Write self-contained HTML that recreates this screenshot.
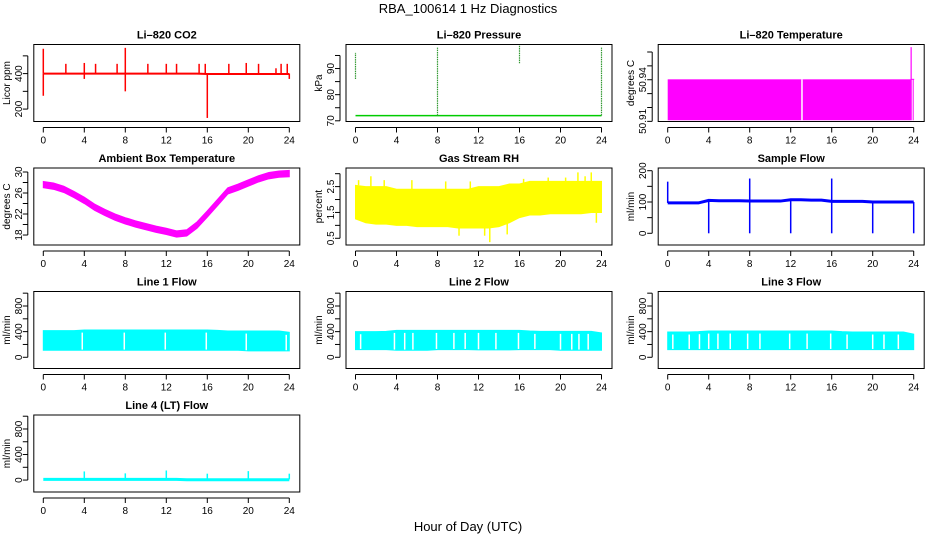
<!DOCTYPE html>
<html><head><meta charset="utf-8"><style>
html,body{margin:0;padding:0;background:#fff}
svg{display:block;font-family:"Liberation Sans",Arial,sans-serif}
</style></head><body>
<svg id="c" width="936" height="540" viewBox="0 0 936 540">
<text x="468" y="13" text-anchor="middle" font-size="13">RBA_100614  1 Hz Diagnostics</text>
<text x="468" y="531" text-anchor="middle" font-size="13">Hour of Day (UTC)</text>
</svg>
<script>
const hours=[0,1,2,3,4,5,6,7,8,9,10,11,12,13,14,15,16,17,18,19,20,21,22,23,24];
const xTicks=[0,4,8,12,16,20,24];
// CO2
const co2Base=[400,400,400,400,400,400,400,400,400,400,400,400,400,400,400,400,398,398,398,398,398,398,398,398,398];
const co2SpikeH=[0,0,2.2,4,4,5.1,7.2,8,8,10.2,12,13,15.2,15.8,16,18.1,19.8,21,22.7,23.2,23.8,24];
const co2SpikeV=[540,275,455,460,370,455,455,545,300,455,455,455,455,455,150,455,460,455,430,455,455,370];
// pressure
const presBase=[72,72,72,72,72,72,72,72,72,72,72,72,72,72,72,72,72,72,72,72,72,72,72,72,72];
const presSpikeH=[0,8,16,24];
const presSpikeLo=[86,72,92,72];
const presSpikeHi=[96,98,99,98];
// Li-820 temperature
const ltStart=[0];const ltEnd=[23.7];const ltLo=[50.9108];const ltHi=[50.9403];
const ltGap=[13.1];const ltSpikeH=[23.75];const ltSpikeV=[50.9635];
// ambient
const ambC=[27.6,27.3,26.7,25.7,24.6,23.3,22.3,21.4,20.7,20.1,19.6,19.1,18.7,18.2,18.4,19.9,22,24.2,26.4,27.1,27.9,28.7,29.3,29.6,29.7];
const ambHalf=0.6;
// RH
const rhLo=[1.25,1.1,1.05,1.05,1.0,1.0,0.95,0.95,0.95,0.95,0.9,0.9,0.9,0.9,0.95,1.1,1.3,1.4,1.4,1.45,1.45,1.45,1.45,1.5,1.5];
const rhHi=[2.55,2.5,2.5,2.5,2.4,2.4,2.4,2.4,2.4,2.4,2.4,2.4,2.5,2.5,2.5,2.6,2.6,2.7,2.7,2.7,2.7,2.7,2.7,2.7,2.7];
const rhSpikeH=[0.3,1.5,2.8,5.5,8.8,10.1,11.2,12.6,13.1,14.8,16.4,18.8,20.5,21.7,22.4,23,23.5];
const rhSpikeV=[2.75,2.9,2.75,2.75,2.7,0.6,2.7,0.6,0.35,0.65,2.8,2.85,2.85,3.05,2.9,3.05,1.1];
// sample flow
const sfBase=[97,97,97,97,105,104,104,104,103,103,103,103,107,107,106,106,102,102,102,102,100,100,100,100,100];
const sfSpikeH=[0,4,8,8,12,16,16,20,24];
const sfSpikeV=[165,0,175,0,0,175,0,0,0];
// line flows
const l1Lo=[110,110,110,110,110,110,110,110,110,110,110,110,110,110,110,110,110,110,110,110,100,100,100,100,100];
const l1Hi=[415,415,415,415,425,425,425,425,425,425,425,425,425,425,425,425,425,420,410,410,410,410,410,410,390];
const l1Gap=[3.8,7.9,11.9,15.9,19.8,23.7];
const l2Lo=[120,120,120,120,110,110,110,110,120,120,120,120,115,115,115,115,120,120,120,120,110,110,110,110,110];
const l2Hi=[400,400,400,405,420,420,420,420,420,420,420,420,420,420,420,420,420,410,405,405,405,405,405,405,380];
const l2Gap=[0.5,3.8,4.8,5.6,7.9,9.6,10.7,12,13.7,15.9,17.5,20,21.1,21.8,22.7];
const l3Lo=[120,120,120,120,120,120,120,120,120,120,120,120,120,120,120,120,120,120,120,120,120,120,120,120,120];
const l3Hi=[395,395,395,400,410,410,410,410,410,410,410,410,410,410,410,410,410,400,395,395,395,395,395,395,360];
const l3Gap=[0.5,2.1,3.1,4,4.9,6.1,7.8,9,11.9,13.6,15.9,17.5,20,21.1,22.5];
const l4Base=[10,10,10,10,10,10,10,10,10,10,10,10,10,10,5,5,5,5,5,5,5,5,5,5,5];
const l4SpikeH=[4,8,12,16,20,24];
const l4SpikeV=[135,105,150,100,140,100];

const svg=document.getElementById('c');
const NS='http://www.w3.org/2000/svg';
function mk(tag,at,parent){const e=document.createElementNS(NS,tag);for(const k in at)e.setAttribute(k,at[k]);(parent||svg).appendChild(e);return e;}
const colX=[43.3,355.5,667.7], rowT=[44.5,168,291.5,415], H=77, PX=10.25;

function panel(o){
  const x0=colX[o.col], top=rowT[o.row], bot=top+H;
  const g=mk('g',{});
  
  
  const sx=h=>x0+h*PX;
  const sy=v=>bot-(v-o.lo)/(o.hi-o.lo)*H;
  const left=x0-9.5, right=x0+256.5;
  const t=mk('text',{x:(left+right)/2,y:top-6,'text-anchor':'middle','font-size':11,'font-weight':'bold'},g);
  t.textContent=o.title;
  
  
  o.draw(g,sx,sy);
  const box=mk('rect',{x:left,y:top,width:right-left,height:H,fill:'none',stroke:'#000','stroke-width':1},g);
  
  
  const xa=mk('g',{},g);
  
  
  mk('line',{x1:sx(0),x2:sx(24),y1:bot+6,y2:bot+6,stroke:'#000'},xa);
  xTicks.forEach(h=>{mk('line',{x1:sx(h),x2:sx(h),y1:bot+6,y2:bot+11,stroke:'#000'},xa);
    const l=mk('text',{x:sx(h),y:bot+22,'text-anchor':'middle','font-size':10},xa);l.textContent=h;});
  const ya=mk('g',{},g);
  
  
  const ax=left-6;
  mk('line',{x1:ax,x2:ax,y1:sy(o.ticks[0]),y2:sy(o.ticks[o.ticks.length-1]),stroke:'#000'},ya);
  o.ticks.forEach(v=>mk('line',{x1:ax,x2:ax-5,y1:sy(v),y2:sy(v),stroke:'#000'},ya));
  o.labels.forEach(v=>{const y=sy(v);const lx=ax-6;const l=mk('text',{x:lx,y:y,'text-anchor':'middle','font-size':10,transform:`rotate(-90 ${lx} ${y})`},ya);l.textContent=o.fmt?o.fmt(v):v;});
  const yl=mk('text',{x:left-24,y:top+H/2,'text-anchor':'middle','font-size':10,transform:`rotate(-90 ${left-24} ${top+H/2})`},ya);
  yl.textContent=o.ylab;
  
  
}
function polyline(g,sx,sy,xs,ys,attrs){return mk('polyline',Object.assign({points:xs.map((h,i)=>sx(h)+','+sy(ys[i])).join(' '),fill:'none'},attrs),g);}
function band(g,sx,sy,lo,hi,color){
  const pts=hours.map((h,i)=>sx(h)+','+sy(hi[i])).concat(hours.slice().reverse().map((h,j)=>{const i=hours.length-1-j;return sx(h)+','+sy(lo[i]);}));
  const p=mk('polygon',{points:pts.join(' '),fill:color,stroke:color},g);
  
  
}
function vline(g,sx,sy,h,a,b,color,w,extra){return mk('line',Object.assign({x1:sx(h),x2:sx(h),y1:sy(a),y2:sy(b),stroke:color,'stroke-width':w||1},extra||{}),g);}

panel({name:'co2-panel',title:'Li\u2013820 CO2',ylab:'Licor ppm',col:0,row:0,lo:130,hi:564,ticks:[200,300,400,500],labels:[200,400],
 draw:(g,sx,sy)=>{const s=polyline(g,sx,sy,hours,co2Base,{stroke:'#f00','stroke-width':2});
  
  co2SpikeH.forEach((h,i)=>vline(g,sx,sy,h,400,co2SpikeV[i],'#f00',1.5));}});
panel({name:'pressure-panel',title:'Li\u2013820 Pressure',ylab:'kPa',col:1,row:0,lo:69.73,hi:99.2,ticks:[70,75,80,85,90,95],labels:[70,80,90],
 draw:(g,sx,sy)=>{const s=polyline(g,sx,sy,hours,presBase,{stroke:'#0c0','stroke-width':1.5});
  
  presSpikeH.forEach((h,i)=>vline(g,sx,sy,h,presSpikeLo[i],presSpikeHi[i],'#393',1.2,{'stroke-dasharray':'1.5,0.8'}));}});
panel({name:'li820-temperature-panel',title:'Li\u2013820 Temperature',ylab:'degrees C',col:2,row:0,lo:50.9099,hi:50.9654,ticks:[50.91,50.92,50.93,50.94,50.95,50.96],labels:[50.91,50.94],fmt:v=>v.toFixed(2),
 draw:(g,sx,sy)=>{ltStart.forEach((s,i)=>{const r=mk('rect',{x:sx(s),y:sy(ltHi[i]),width:sx(ltEnd[i])-sx(s),height:sy(ltLo[i])-sy(ltHi[i]),fill:'#f0f'},g);
   });
  ltGap.forEach(h=>vline(g,sx,sy,h,ltLo[0],ltHi[0],'#fff',1.5));
  ltSpikeH.forEach((h,i)=>vline(g,sx,sy,h,ltLo[0],ltSpikeV[i],'#f0f',1.2));
  vline(g,sx,sy,23.95,ltLo[0],ltHi[0],'#f0f',1);
  mk('line',{x1:sx(23.7),x2:sx(24.05),y1:sy(ltHi[0]),y2:sy(ltHi[0]),stroke:'#f0f'},g);}});
panel({name:'ambient-temperature-panel',title:'Ambient Box Temperature',ylab:'degrees C',col:0,row:1,lo:16.1,hi:30.76,ticks:[18,20,22,24,26,28,30],labels:[18,22,26,30],
 draw:(g,sx,sy)=>band(g,sx,sy,ambC.map(v=>v-ambHalf),ambC.map(v=>v+ambHalf),'#f0f')});
panel({name:'rh-panel',title:'Gas Stream RH',ylab:'percent',col:1,row:1,lo:0.24,hi:3.22,ticks:[0.5,1,1.5,2,2.5,3],labels:[0.5,1.5,2.5],fmt:v=>v.toFixed(1),
 draw:(g,sx,sy)=>{band(g,sx,sy,rhLo,rhHi,'#ff0');rhSpikeH.forEach((h,i)=>{const k=Math.round(h);vline(g,sx,sy,h,rhSpikeV[i]>2?rhHi[k]:rhLo[k],rhSpikeV[i],'#ff0',1.5);});}});
panel({name:'sample-flow-panel',title:'Sample Flow',ylab:'ml/min',col:2,row:1,lo:-37.4,hi:208.6,ticks:[0,50,100,150,200],labels:[0,100,200],
 draw:(g,sx,sy)=>{const s=polyline(g,sx,sy,hours,sfBase,{stroke:'#00f','stroke-width':3});
  
  sfSpikeH.forEach((h,i)=>vline(g,sx,sy,h,sfBase[Math.round(h)],sfSpikeV[i],'#00f',1.5));}});
const flowTicks=[0,200,400,600,800,1000],flowLabels=[0,400,800];
[[l1Lo,l1Hi,l1Gap,'Line 1 Flow',0,2,'line1'],[l2Lo,l2Hi,l2Gap,'Line 2 Flow',1,2,'line2'],[l3Lo,l3Hi,l3Gap,'Line 3 Flow',2,2,'line3']].forEach(d=>{
 panel({name:d[6]+'-flow-panel',title:d[3],ylab:'ml/min',col:d[4],row:d[5],lo:-175,hi:1026,ticks:flowTicks,labels:flowLabels,
  draw:(g,sx,sy)=>{band(g,sx,sy,d[0],d[1],'#0ff');d[2].forEach(h=>vline(g,sx,sy,h,d[0][Math.round(h)]+10,d[1][Math.round(h)]-40,'#fff',1.5));}});
});
panel({name:'line4-flow-panel',title:'Line 4 (LT) Flow',ylab:'ml/min',col:0,row:3,lo:-187,hi:1019,ticks:flowTicks,labels:flowLabels,
 draw:(g,sx,sy)=>{const s=polyline(g,sx,sy,hours,l4Base,{stroke:'#0ff','stroke-width':3});
  
  l4SpikeH.forEach((h,i)=>vline(g,sx,sy,h,10,l4SpikeV[i],'#0ff',1.5));}});
</script>
</body></html>
